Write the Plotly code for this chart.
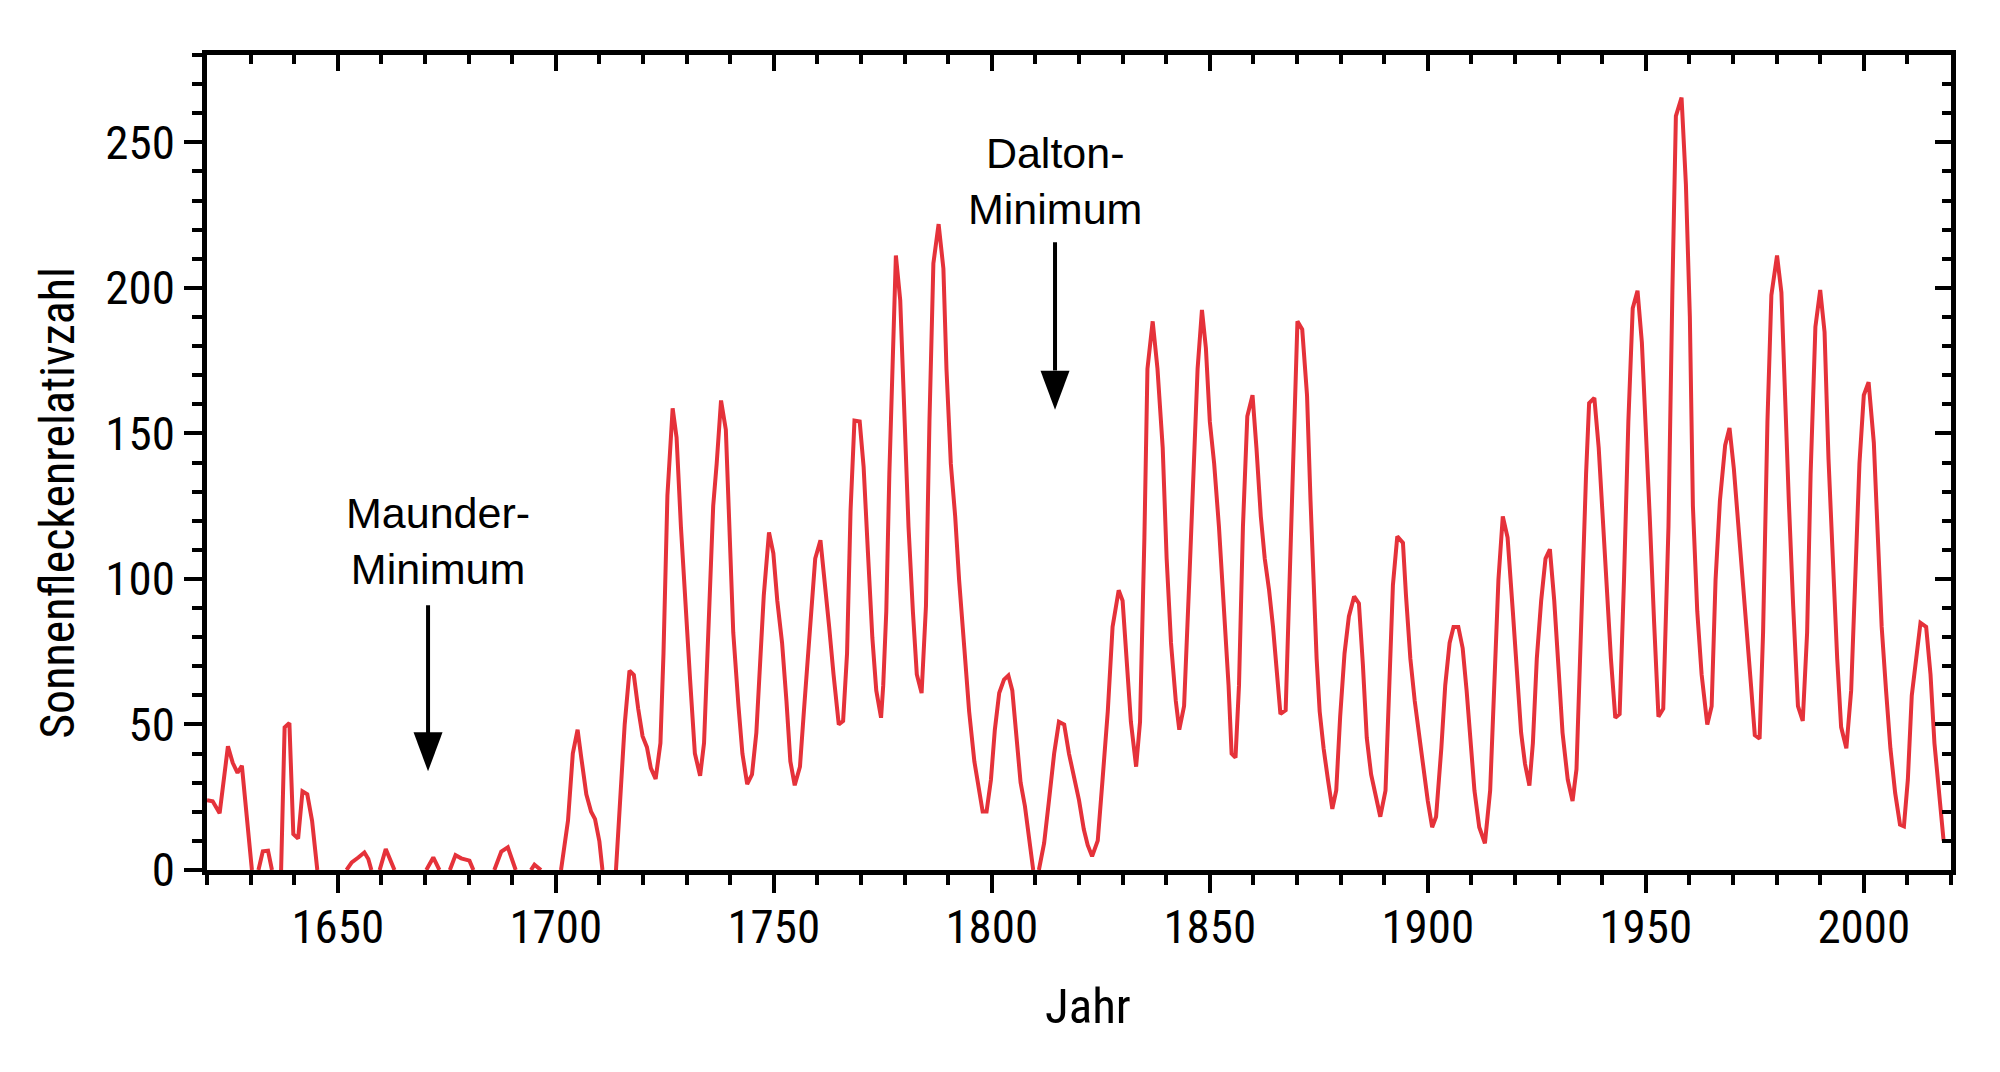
import plotly.graph_objects as go

# ---- data (year, sunspot number); None = gap where the series sits at 0
years = [
    1620.0, 1621.3, 1622.9, 1624.8, 1625.9, 1627.0, 1628.0, 1629.1, 1630.3, None,
    1631.8, 1632.8, 1634.0, 1634.9, None,
    1637.0, 1637.8, 1638.9, 1639.8, 1640.9, 1641.9, 1643.0, 1644.1, 1645.3, None,
    1652.0, 1653.2, 1654.7, 1656.1, 1657.0, 1657.7, None,
    1659.6, 1661.0, 1663.0, None,
    1670.3, 1671.9, 1673.3, None,
    1675.7, 1677.0, 1678.3, 1679.5, 1680.2, 1681.1, None,
    1685.9, 1687.5, 1689.0, 1690.8, None,
    1694.3, 1695.1, 1696.6, None,
    1701.2, 1702.8, 1703.9, 1705.0, 1705.9, 1707.0, 1708.1, 1709.0, 1710.0, 1710.7, None,
    1713.8, 1714.9, 1715.8, 1716.9, 1717.9, 1718.9, 1719.9, 1720.9, 1721.8, 1722.9,
    1724.0, 1724.7, 1725.6, 1726.8, 1727.7, 1728.7, 1729.7, 1730.8, 1731.9, 1733.1,
    1734.0, 1735.0, 1736.1, 1736.9, 1737.9, 1739.0, 1739.9, 1740.7, 1741.9, 1742.8,
    1743.9, 1745.0, 1746.0, 1746.8, 1747.7, 1748.9, 1749.9, 1750.8, 1751.9, 1752.9,
    1753.8, 1754.8, 1756.0, 1756.9, 1757.7, 1758.6, 1759.5, 1760.7, 1761.7, 1762.7,
    1763.7, 1764.9, 1765.9, 1766.8, 1767.6, 1768.5, 1769.7, 1770.6, 1771.6, 1772.6,
    1773.5, 1774.6, 1775.1, 1775.8, 1776.5, 1777.3, 1778.0, 1779.0, 1780.0, 1780.9,
    1781.9, 1782.8, 1783.9, 1784.9, 1785.7, 1786.6, 1787.8, 1788.9, 1789.6, 1790.6,
    1791.6, 1792.5, 1793.7, 1794.8, 1796.0, 1797.1, 1797.9, 1798.8, 1799.8, 1800.7,
    1801.7, 1802.8, 1803.8, 1804.7, 1805.6, 1806.6, 1807.6, 1808.5, 1809.5, None,
    1810.8, 1812.0, 1813.1, 1814.3, 1815.4, 1816.6, 1817.7, 1818.8, 1820.0, 1821.1,
    1822.0, 1823.0, 1824.3, 1825.4, 1826.6, 1827.7, 1829.1, 1830.0, 1830.9, 1831.9,
    1833.1, 1834.0, 1835.0, 1835.7, 1836.9, 1838.0, 1839.2, 1840.1, 1841.1, 1842.2,
    1843.0, 1844.1, 1845.3, 1846.4, 1847.2, 1848.2, 1849.1, 1850.0, 1851.0, 1852.1,
    1853.3, 1854.3, 1855.0, 1855.9, 1856.7, 1857.6, 1858.6, 1859.8, 1860.7, 1861.7,
    1862.6, 1863.6, 1864.5, 1865.5, 1866.2, 1867.4, 1868.3, 1869.3, 1870.1, 1871.2,
    1872.3, 1873.1, 1873.7, 1874.5, 1875.2, 1876.1, 1877.1, 1878.1, 1879.0, 1879.9,
    1880.9, 1881.9, 1883.1, 1884.2, 1885.1, 1886.0, 1887.0, 1888.2, 1889.1, 1890.3,
    1891.1, 1892.0, 1893.0, 1894.3, 1895.0, 1896.0, 1897.0, 1897.9, 1898.9, 1900.0,
    1901.0, 1901.9, 1903.1, 1904.0, 1905.0, 1905.9, 1907.0, 1908.0, 1908.9, 1909.7,
    1910.7, 1911.8, 1913.1, 1914.3, 1915.3, 1916.2, 1917.2, 1918.3, 1919.5, 1920.4,
    1921.4, 1922.3, 1923.3, 1924.1, 1925.0, 1926.0, 1927.0, 1928.0, 1929.0, 1930.0,
    1930.9, 1932.1, 1933.2, 1934.1, 1934.9, 1935.7, 1936.3, 1937.0, 1938.2, 1939.2,
    1940.1, 1941.0, 1942.0, 1943.0, 1944.0, 1945.0, 1946.0, 1947.0, 1948.1, 1949.1,
    1950.0, 1950.9, 1951.9, 1952.9, 1954.0, 1955.2, 1956.1, 1956.9, 1958.2, 1959.2,
    1960.1, 1960.8, 1961.8, 1962.8, 1964.1, 1965.1, 1966.0, 1967.0, 1968.2, 1969.2,
    1970.2, 1971.3, 1972.3, 1973.3, 1974.1, 1975.0, 1976.1, 1976.9, 1977.9, 1978.8,
    1980.1, 1981.1, 1981.9, 1982.8, 1983.8, 1984.9, 1986.0, 1987.0, 1987.8, 1988.9,
    1990.0, 1991.0, 1991.9, 1992.9, 1993.9, 1994.8, 1996.0, 1997.1, 1998.0, 1999.0,
    2000.0, 2001.1, 2002.3, 2003.2, 2004.1, 2005.1, 2006.1, 2007.2, 2008.3, 2009.2,
    2010.1, 2011.0, 2012.0, 2013.0, 2014.3, 2015.3, 2016.2, 2017.3, 2018.3,
]
sunspots = [
    24.0, 23.6, 19.5, 42.5, 36.8, 33.4, 35.8, 20.0, 0.0, None,
    0.0, 6.4, 6.6, 0.0, None,
    0.0, 49.0, 50.5, 12.3, 10.8, 27.0, 26.0, 16.9, 0.0, None,
    0.0, 2.6, 4.3, 6.0, 3.8, 0.0, None,
    0.0, 7.2, 0.0, None,
    0.0, 4.3, 0.0, None,
    0.0, 5.1, 4.0, 3.5, 3.2, 0.0, None,
    0.0, 6.3, 7.8, 0.0, None,
    0.0, 1.8, 0.0, None,
    0.0, 17.0, 40.0, 48.2, 38.0, 26.0, 20.0, 17.5, 9.8, 0.0, None,
    0.0, 27.7, 50.0, 68.5, 67.0, 55.4, 46.0, 42.2, 35.0, 31.3,
    43.6, 74.4, 128.7, 158.6, 148.6, 117.9, 90.7, 65.4, 40.0, 32.4,
    43.6, 79.8, 125.1, 139.6, 161.3, 151.3, 117.9, 81.6, 56.3, 40.0,
    29.5, 32.8, 47.2, 67.2, 94.3, 116.0, 108.8, 92.5, 78.0, 58.1,
    37.3, 29.1, 35.5, 54.5, 70.8, 85.3, 107.0, 113.3, 99.7, 83.5,
    67.2, 50.0, 51.2, 74.4, 123.3, 154.4, 154.1, 138.5, 108.8, 79.8,
    61.7, 52.3, 63.5, 88.9, 136.0, 175.8, 211.1, 195.7, 154.1, 117.9,
    88.9, 67.2, 60.8, 90.7, 154.1, 208.4, 221.9, 206.6, 172.2, 139.6,
    121.5, 99.7, 76.2, 54.5, 37.3, 27.3, 20.1, 20.1, 31.0, 48.2,
    60.8, 65.4, 66.8, 61.7, 47.2, 30.1, 21.9, 11.0, 0.0, None,
    0.0, 9.2, 23.7, 40.0, 50.9, 50.0, 40.0, 31.9, 24.0, 14.0,
    8.5, 4.7, 10.1, 31.0, 54.5, 83.5, 96.1, 92.5, 72.6, 50.9,
    35.5, 50.9, 114.2, 172.2, 188.5, 172.2, 145.0, 107.0, 78.0, 58.1,
    48.2, 56.3, 99.7, 145.0, 172.2, 192.4, 179.4, 154.1, 139.6, 117.9,
    90.7, 63.5, 40.0, 38.6, 63.5, 117.9, 155.9, 163.1, 145.0, 121.5,
    107.0, 96.1, 83.5, 67.2, 53.6, 54.9, 99.7, 154.1, 188.5, 185.7,
    163.1, 126.9, 99.7, 72.6, 54.5, 41.8, 31.0, 21.0, 27.3, 52.7,
    74.4, 87.1, 94.0, 91.6, 70.8, 45.4, 32.8, 23.7, 18.3, 27.3,
    63.5, 97.9, 114.6, 112.4, 94.3, 72.6, 58.1, 47.2, 36.4, 23.7,
    14.7, 18.3, 41.8, 63.5, 78.0, 83.5, 83.5, 76.2, 61.7, 45.4,
    27.3, 14.7, 9.2, 27.3, 63.5, 99.7, 121.5, 114.2, 88.9, 67.2,
    47.2, 36.4, 29.0, 43.6, 72.6, 92.5, 107.0, 110.2, 92.5, 69.0,
    47.2, 31.0, 23.7, 34.6, 72.6, 117.9, 136.0, 160.4, 162.2, 145.0,
    121.5, 97.9, 72.6, 52.3, 53.6, 99.7, 154.1, 193.0, 199.0, 181.2,
    154.1, 121.5, 85.3, 52.7, 55.4, 117.9, 199.3, 259.0, 265.4, 235.5,
    190.3, 125.1, 88.9, 67.2, 50.0, 56.3, 99.7, 126.9, 145.9, 151.9,
    137.8, 117.9, 98.0, 78.0, 64.0, 46.3, 45.1, 81.6, 154.1, 197.5,
    211.1, 198.4, 163.1, 126.9, 90.7, 56.3, 51.2, 81.6, 136.0, 186.6,
    199.3, 184.8, 141.4, 103.4, 72.6, 49.1, 41.8, 61.7, 99.7, 139.6,
    163.1, 167.6, 146.8, 117.9, 83.5, 61.7, 41.8, 26.4, 15.6, 15.0,
    31.0, 59.9, 72.6, 84.9, 83.5, 67.2, 43.6, 25.5, 10.1,
]

x_tick_values = [1650, 1700, 1750, 1800, 1850, 1900, 1950, 2000]
x_tick_labels = ["1650", "1700", "1750", "1800", "1850", "1900", "1950", "2000"]
y_tick_values = [0, 50, 100, 150, 200, 250]
y_tick_labels = ["0", "50", "100", "150", "200", "250"]

x_title = "Jahr"
y_title = "Sonnenfleckenrelativzahl"
notes = ["Maunder-<br>Minimum", "Dalton-<br>Minimum"]

LINE_RED = "#E5323A"
AX_FONT = "Roboto Condensed, Roboto, sans-serif"
NOTE_FONT = "Liberation Sans, Arial, sans-serif"

fig = go.Figure()
fig.add_trace(go.Scatter(x=years, y=sunspots, mode="lines",
                         line=dict(color=LINE_RED, width=4),
                         connectgaps=False, showlegend=False, hoverinfo="skip"))
# empty trace so the mirrored top/right axes are drawn
fig.add_trace(go.Scatter(x=[], y=[], xaxis="x2", yaxis="y2", showlegend=False))

axis_common = dict(showline=True, linecolor="black", linewidth=4.5, showgrid=False,
                   zeroline=False, tickcolor="black", tickwidth=4)

fig.update_layout(
    width=2000, height=1072,
    margin=dict(l=207, r=49, t=55, b=202),
    paper_bgcolor="white", plot_bgcolor="white",
    xaxis=dict(range=[1620, 2020], tickvals=x_tick_values, ticktext=x_tick_labels,
               ticks="outside", ticklen=18, ticklabelstandoff=-6,
               minor=dict(dtick=10, tick0=1620, ticks="outside", ticklen=10, tickwidth=4, tickcolor="black"),
               tickfont=dict(family=AX_FONT, size=47, color="black"),
               **axis_common),
    yaxis=dict(range=[0, 280], tickvals=y_tick_values, ticktext=y_tick_labels,
               ticks="outside", ticklen=18,
               minor=dict(dtick=10, tick0=0, ticks="outside", ticklen=10, tickwidth=4, tickcolor="black"),
               tickfont=dict(family=AX_FONT, size=47, color="black"),
               **axis_common),
    xaxis2=dict(range=[1620, 2020], overlaying="x", side="top", anchor="y2",
                tickvals=x_tick_values, showticklabels=False, ticks="inside", ticklen=16,
                minor=dict(dtick=10, tick0=1620, ticks="inside", ticklen=9, tickwidth=4, tickcolor="black"),
                **axis_common),
    yaxis2=dict(range=[0, 280], overlaying="y", side="right", anchor="x2",
                tickvals=y_tick_values, showticklabels=False, ticks="inside", ticklen=16,
                minor=dict(dtick=10, tick0=0, ticks="inside", ticklen=9, tickwidth=4, tickcolor="black"),
                **axis_common),
)

# axis titles
fig.add_annotation(text=x_title, xref="paper", yref="paper", x=0.505, y=-0.1675,
                   xanchor="center", yanchor="middle", showarrow=False,
                   font=dict(family=AX_FONT, size=49, color="black"))
fig.add_annotation(text=y_title, xref="paper", yref="paper", x=-0.0858, y=0.451,
                   textangle=-90, xanchor="center", yanchor="middle", showarrow=False,
                   font=dict(family=AX_FONT, size=48, color="black"))

# labels for the two minima
fig.add_annotation(text=notes[0], x=1672.9, y=113, xanchor="center", yanchor="middle",
                   showarrow=False, font=dict(family=NOTE_FONT, size=43, color="black"))
fig.add_annotation(text=notes[1], x=1814.6, y=236.8, xanchor="center", yanchor="middle",
                   showarrow=False, font=dict(family=NOTE_FONT, size=43, color="black"))

# arrows: shaft + triangular head
for ax_x, top, base, tip in [(1670.7, 91, 47, 33.9), (1814.5, 215.7, 171.6, 158.1)]:
    fig.add_shape(type="line", x0=ax_x, x1=ax_x, y0=top, y1=base,
                  line=dict(color="black", width=4))
    fig.add_shape(type="path", xsizemode="pixel", ysizemode="pixel",
                  xanchor=ax_x, yanchor=tip, path="M-14.5,39 L14.5,39 L0,0 Z",
                  fillcolor="black", line=dict(color="black", width=0))

fig.write_html("out.html", config={"displayModeBar": False},
               post_script="document.body.style.margin='0';")
